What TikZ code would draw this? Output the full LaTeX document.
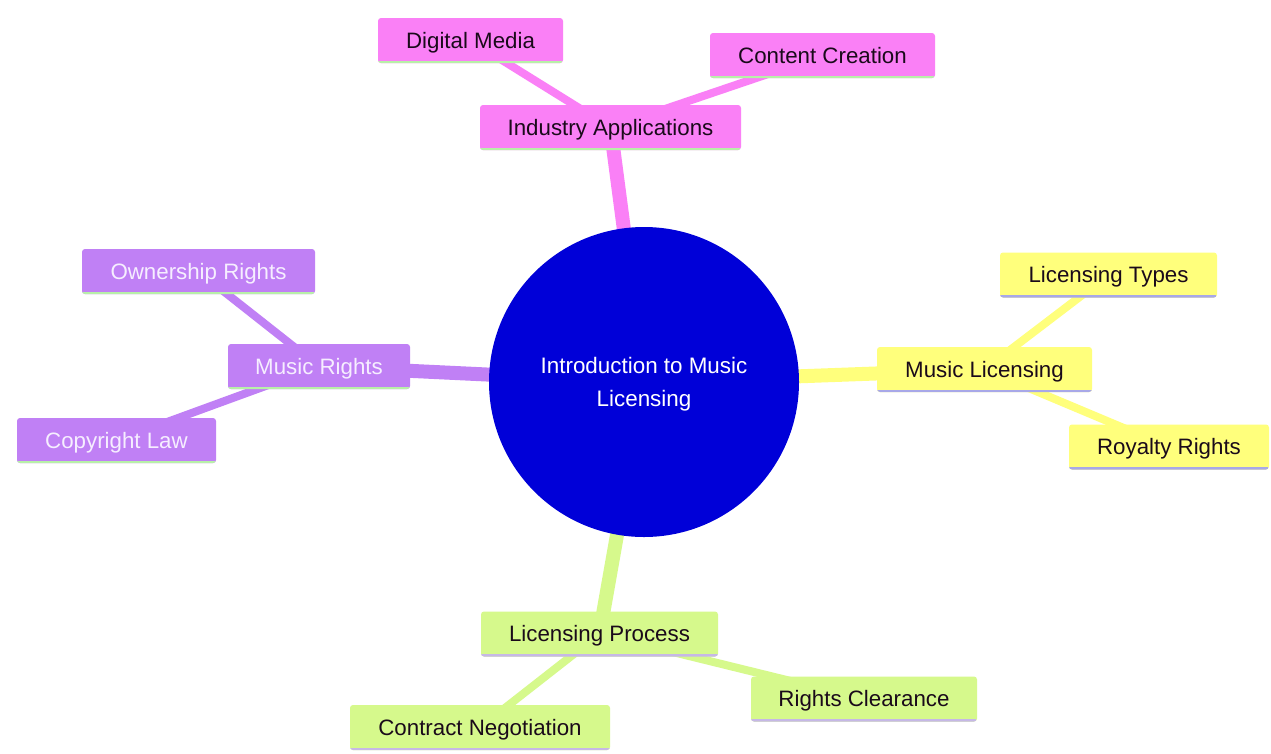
\documentclass[tikz,border=0pt]{standalone}
\usepackage{fontspec}
\setmainfont{Liberation Sans}
\usetikzlibrary{backgrounds}
\definecolor{pinkF}{HTML}{FA80F6}
\definecolor{purpF}{HTML}{C080F5}
\definecolor{yelF}{HTML}{FFFF7C}
\definecolor{grnF}{HTML}{D6F98C}
\definecolor{rootF}{HTML}{0000D8}
\definecolor{accGreen}{HTML}{B8F0A8}
\definecolor{accLav}{HTML}{A8A8E8}
\definecolor{accLav2}{HTML}{C6B8E6}
\definecolor{darkT}{HTML}{1A0A1A}
\definecolor{lightT}{HTML}{F6EEFF}
\tikzset{
  mbox/.style 2 args={rectangle, rounded corners=3pt, fill=#1, inner sep=0pt,
    minimum height=45pt, font=\fontsize{22.3}{26}\selectfont,
    text height=16pt, text depth=1pt,
    path picture={\draw[line width=5pt,#2] (path picture bounding box.south west) -- (path picture bounding box.south east);}},
  pinkbox/.style={mbox={pinkF}{accGreen}, text=darkT},
  purpbox/.style={mbox={purpF}{accGreen}, text=lightT},
  yelbox/.style={mbox={yelF}{accLav}, text=darkT},
  grnbox/.style={mbox={grnF}{accLav2}, text=darkT},
  rootnode/.style={circle, fill=rootF, minimum size=310pt, inner sep=0pt},
  roottext/.style={text=white, align=center, inner sep=0pt, font=\fontsize{22.4}{33}\selectfont},
  link/.style={line cap=round, line width=#1},
}
\begin{document}
\begin{tikzpicture}[x=1pt,y=-1pt]
\useasboundingbox (0,0) rectangle (1271,753);
% root
\node[rootnode] (root) at (644,382) {};
\node[roottext] (rootlabel) at ([yshift=-2pt]root.center) {Introduction to Music\\Licensing};
% pink
\node[pinkbox, minimum width=261pt] (ia) at (610.5,127.5) {Industry Applications};
\node[pinkbox, minimum width=185pt] (dm) at (470.5,40.5) {Digital Media};
\node[pinkbox, minimum width=225pt] (cc) at (822.5,55.5) {Content Creation};
% purple
\node[purpbox, minimum width=182pt] (mr) at (319,366.5) {Music Rights};
\node[purpbox, minimum width=233pt] (or) at (198.5,271.5) {Ownership Rights};
\node[purpbox, minimum width=199pt] (cl) at (116.5,440.5) {Copyright Law};
% yellow
\node[yelbox, minimum width=215pt] (ml) at (984.5,369.5) {Music Licensing};
\node[yelbox, minimum width=217pt] (lt) at (1108.5,275) {Licensing Types};
\node[yelbox, minimum width=200pt] (rr) at (1169,447) {Royalty Rights};
% green
\node[grnbox, minimum width=237pt] (lp) at (599.5,634) {Licensing Process};
\node[grnbox, minimum width=226pt] (rc) at (864,699) {Rights Clearance};
\node[grnbox, minimum width=260pt] (cn) at (480,727.5) {Contract Negotiation};
\begin{scope}[on background layer]
\fill[white] (0,0) rectangle (1271,753);
\draw[link=14pt, pinkF] (root.center) -- (ia.center);
\draw[link=8pt, pinkF] (ia.center) -- (dm.center);
\draw[link=8pt, pinkF] (ia.center) -- (cc.center);
\draw[link=14pt, purpF] (root.center) -- (mr.center);
\draw[link=8pt, purpF] (mr.center) -- (or.center);
\draw[link=8pt, purpF] (mr.center) -- (cl.center);
\draw[link=14pt, yelF] (root.center) -- (ml.center);
\draw[link=8pt, yelF] (ml.center) -- (lt.center);
\draw[link=8pt, yelF] (ml.center) -- (rr.center);
\draw[link=14pt, grnF] (root.center) -- (lp.center);
\draw[link=8pt, grnF] (lp.center) -- (rc.center);
\draw[link=8pt, grnF] (lp.center) -- (cn.center);
\end{scope}
\end{tikzpicture}
\end{document}
